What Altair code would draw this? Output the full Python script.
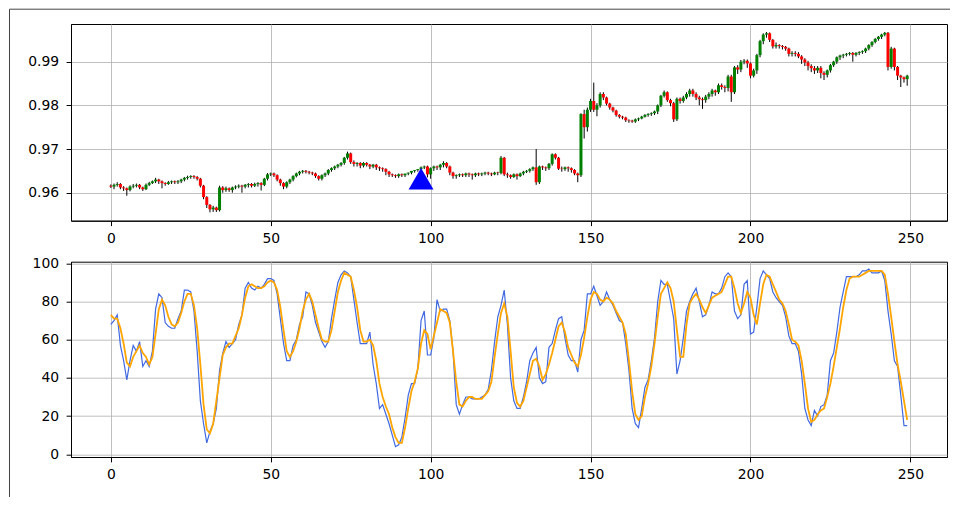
import altair as alt
import pandas as pd

# prices in units of 0.0001
OPEN = [
9616, 9614, 9618, 9620, 9612, 9610, 9606, 9614, 9616, 9618,
9612, 9608, 9618, 9622, 9626, 9630, 9626, 9622, 9620, 9624,
9626, 9624, 9626, 9630, 9634, 9636, 9638, 9636, 9632, 9616,
9590, 9572, 9562, 9566, 9560, 9612, 9606, 9610, 9606, 9612,
9614, 9616, 9614, 9618, 9620, 9616, 9620, 9622, 9618, 9632,
9642, 9644, 9640, 9630, 9622, 9614, 9624, 9630, 9638, 9644,
9648, 9650, 9648, 9646, 9644, 9638, 9632, 9640, 9644, 9652,
9656, 9660, 9664, 9668, 9680, 9690, 9670, 9666, 9668, 9662,
9668, 9664, 9660, 9664, 9658, 9656, 9654, 9648, 9642, 9640,
9638, 9642, 9640, 9644, 9646, 9650, 9652, 9654, 9658, 9660,
9642, 9656, 9660, 9658, 9664, 9668, 9660, 9646, 9638, 9640,
9642, 9640, 9644, 9642, 9640, 9644, 9642, 9644, 9646, 9644,
9642, 9646, 9645, 9680, 9642, 9640, 9636, 9642, 9638, 9644,
9648, 9650, 9654, 9658, 9624, 9660, 9658, 9656, 9666, 9688,
9680, 9655, 9654, 9658, 9656, 9652, 9644, 9640, 9780, 9750,
9790, 9810, 9790, 9800, 9826, 9818, 9804, 9795, 9788, 9778,
9774, 9772, 9766, 9765, 9763, 9768, 9770, 9774, 9778, 9780,
9782, 9786, 9800, 9822, 9830, 9812, 9805, 9768, 9815, 9810,
9818, 9826, 9834, 9826, 9818, 9814, 9812, 9820, 9826, 9834,
9830, 9846, 9842, 9840, 9866, 9830, 9887, 9882, 9900, 9902,
9896, 9868, 9880, 9915, 9947, 9962, 9965, 9950, 9935, 9938,
9936, 9934, 9930, 9918, 9920, 9918, 9912, 9905, 9898, 9890,
9885, 9880, 9886, 9874, 9870, 9880, 9892, 9900, 9910, 9914,
9916, 9918, 9920, 9916, 9920, 9922, 9924, 9930, 9938, 9945,
9952, 9957, 9962, 9966, 9888, 9930, 9888, 9868, 9864, 9860,
]
HIGH = [
9619, 9621, 9624, 9622, 9615, 9612, 9617, 9620, 9621, 9620,
9614, 9621, 9625, 9628, 9634, 9632, 9628, 9624, 9627, 9628,
9628, 9629, 9632, 9636, 9639, 9640, 9640, 9638, 9634, 9618,
9592, 9574, 9570, 9568, 9616, 9615, 9614, 9612, 9614, 9617,
9619, 9618, 9620, 9622, 9622, 9623, 9624, 9624, 9634, 9645,
9646, 9646, 9642, 9632, 9624, 9626, 9632, 9640, 9646, 9650,
9652, 9652, 9650, 9648, 9646, 9640, 9642, 9646, 9654, 9658,
9662, 9666, 9670, 9682, 9694, 9692, 9674, 9670, 9670, 9670,
9670, 9666, 9666, 9666, 9660, 9658, 9656, 9650, 9644, 9642,
9644, 9644, 9642, 9646, 9648, 9652, 9654, 9660, 9662, 9662,
9658, 9662, 9662, 9666, 9672, 9670, 9662, 9648, 9642, 9644,
9644, 9646, 9646, 9644, 9646, 9646, 9646, 9648, 9648, 9646,
9648, 9648, 9684, 9682, 9646, 9642, 9644, 9644, 9646, 9650,
9652, 9656, 9660, 9700, 9662, 9662, 9660, 9668, 9690, 9690,
9682, 9660, 9660, 9660, 9658, 9654, 9646, 9782, 9790, 9795,
9815, 9852, 9805, 9830, 9830, 9820, 9806, 9797, 9790, 9780,
9776, 9774, 9768, 9767, 9770, 9772, 9776, 9780, 9782, 9784,
9788, 9802, 9824, 9834, 9832, 9815, 9808, 9818, 9818, 9822,
9830, 9838, 9838, 9830, 9822, 9818, 9824, 9830, 9838, 9836,
9850, 9850, 9846, 9870, 9870, 9890, 9892, 9904, 9906, 9905,
9898, 9884, 9918, 9950, 9965, 9968, 9967, 9952, 9944, 9940,
9938, 9936, 9932, 9924, 9924, 9922, 9915, 9908, 9902, 9894,
9890, 9890, 9890, 9878, 9882, 9895, 9902, 9912, 9916, 9918,
9920, 9922, 9922, 9922, 9924, 9926, 9932, 9940, 9947, 9954,
9959, 9964, 9968, 9968, 9934, 9932, 9890, 9870, 9866, 9870,
]
LOW = [
9611, 9608, 9614, 9608, 9604, 9593, 9603, 9610, 9612, 9608,
9604, 9606, 9615, 9620, 9622, 9620, 9610, 9616, 9618, 9620,
9620, 9620, 9622, 9626, 9630, 9632, 9632, 9628, 9612, 9585,
9565, 9555, 9556, 9556, 9557, 9600, 9602, 9602, 9600, 9608,
9610, 9600, 9610, 9612, 9612, 9613, 9614, 9605, 9615, 9628,
9638, 9636, 9626, 9616, 9608, 9610, 9620, 9626, 9635, 9640,
9644, 9644, 9642, 9640, 9634, 9628, 9628, 9636, 9640, 9648,
9652, 9656, 9660, 9664, 9676, 9666, 9660, 9660, 9656, 9658,
9660, 9654, 9656, 9652, 9650, 9648, 9640, 9636, 9636, 9634,
9634, 9636, 9636, 9640, 9642, 9646, 9648, 9650, 9654, 9635,
9632, 9650, 9652, 9652, 9658, 9656, 9640, 9632, 9632, 9636,
9636, 9636, 9636, 9630, 9636, 9638, 9638, 9640, 9640, 9638,
9640, 9640, 9642, 9638, 9634, 9632, 9634, 9630, 9636, 9640,
9645, 9646, 9650, 9618, 9620, 9652, 9650, 9652, 9662, 9676,
9652, 9648, 9650, 9648, 9646, 9640, 9624, 9636, 9724, 9740,
9785, 9785, 9775, 9795, 9812, 9800, 9790, 9784, 9774, 9770,
9768, 9762, 9760, 9760, 9760, 9764, 9768, 9772, 9774, 9776,
9778, 9780, 9796, 9818, 9808, 9798, 9762, 9764, 9804, 9806,
9814, 9820, 9820, 9812, 9800, 9792, 9806, 9814, 9820, 9822,
9826, 9836, 9830, 9832, 9808, 9826, 9872, 9876, 9894, 9886,
9862, 9864, 9872, 9910, 9940, 9955, 9945, 9930, 9930, 9930,
9928, 9925, 9912, 9912, 9912, 9908, 9895, 9890, 9880, 9876,
9872, 9874, 9862, 9858, 9864, 9875, 9888, 9895, 9904, 9908,
9912, 9914, 9900, 9912, 9915, 9918, 9920, 9926, 9934, 9942,
9948, 9952, 9958, 9880, 9884, 9880, 9858, 9842, 9852, 9845,
]
CLOSE = [
9614, 9618, 9620, 9612, 9610, 9606, 9614, 9616, 9618, 9612,
9608, 9618, 9622, 9626, 9630, 9626, 9622, 9620, 9624, 9626,
9624, 9626, 9630, 9634, 9636, 9638, 9636, 9632, 9616, 9590,
9572, 9562, 9566, 9560, 9612, 9606, 9610, 9606, 9612, 9614,
9616, 9614, 9618, 9620, 9616, 9620, 9622, 9618, 9632, 9642,
9644, 9640, 9630, 9622, 9614, 9624, 9630, 9638, 9644, 9648,
9650, 9648, 9646, 9644, 9638, 9632, 9640, 9644, 9652, 9656,
9660, 9664, 9668, 9680, 9690, 9670, 9666, 9668, 9662, 9668,
9664, 9660, 9664, 9658, 9656, 9654, 9648, 9642, 9640, 9638,
9642, 9640, 9644, 9646, 9650, 9652, 9654, 9658, 9660, 9642,
9656, 9660, 9658, 9664, 9668, 9660, 9646, 9638, 9640, 9642,
9640, 9644, 9642, 9640, 9644, 9642, 9644, 9646, 9644, 9642,
9646, 9645, 9680, 9642, 9640, 9636, 9642, 9638, 9644, 9648,
9650, 9654, 9658, 9624, 9660, 9658, 9656, 9666, 9688, 9680,
9655, 9654, 9658, 9656, 9652, 9644, 9640, 9780, 9750, 9790,
9810, 9790, 9800, 9826, 9818, 9804, 9795, 9788, 9778, 9774,
9772, 9766, 9765, 9763, 9768, 9770, 9774, 9778, 9780, 9782,
9786, 9800, 9822, 9830, 9812, 9805, 9768, 9815, 9810, 9818,
9826, 9834, 9826, 9818, 9814, 9812, 9820, 9826, 9834, 9830,
9846, 9842, 9840, 9866, 9830, 9887, 9882, 9900, 9902, 9896,
9868, 9880, 9915, 9947, 9962, 9965, 9950, 9935, 9938, 9936,
9934, 9930, 9918, 9920, 9918, 9912, 9905, 9898, 9890, 9885,
9880, 9886, 9874, 9870, 9880, 9892, 9900, 9910, 9914, 9916,
9918, 9920, 9916, 9920, 9922, 9924, 9930, 9938, 9945, 9952,
9957, 9962, 9966, 9888, 9930, 9888, 9868, 9864, 9860, 9868,
]
K_LINE = [
68, 70, 73, 57, 49, 39, 49, 57, 54, 59,
46, 49, 46, 54, 76, 84, 82, 69, 67, 66,
66, 71, 75, 86, 86, 85, 75, 54, 28, 16,
6, 12, 16, 24, 44, 53, 59, 56, 58, 60,
68, 73, 87, 90, 87, 86, 88, 87, 89, 92,
92, 91, 84, 71, 58, 49, 49, 57, 60, 68,
72, 85, 84, 78, 69, 64, 59, 56, 59, 71,
81, 90, 94, 96, 95, 93, 81, 69, 58, 58,
58, 64, 47, 37, 24, 26, 21, 16, 10, 4,
5, 9, 19, 31, 37, 37, 45, 70, 75, 52,
52, 61, 81, 75, 76, 76, 70, 54, 26, 21,
26, 30, 30, 29, 29, 29, 30, 31, 34, 44,
59, 72, 78, 86, 68, 40, 28, 24, 24, 30,
38, 49, 53, 56, 40, 37, 38, 56, 58, 65,
71, 72, 61, 52, 49, 49, 43, 60, 65, 84,
84, 88, 83, 78, 80, 85, 81, 78, 74, 70,
69, 58, 44, 24, 16, 14, 24, 35, 39, 49,
61, 80, 91, 89, 89, 80, 71, 42, 49, 61,
75, 80, 84, 87, 80, 72, 73, 78, 85, 84,
84, 87, 93, 95, 93, 75, 71, 73, 89, 91,
63, 64, 77, 92, 96, 94, 92, 85, 82, 80,
78, 72, 62, 58, 58, 54, 42, 24, 18, 15,
23, 20, 25, 26, 31, 49, 53, 64, 77, 85,
93, 93, 93, 93, 94, 96, 96, 97, 95, 95,
95, 96, 91, 75, 63, 49, 46, 31, 15, 15,
]
D_LINE = [
73, 71, 71, 66, 58, 48, 46, 51, 54, 57,
53, 51, 47, 51, 63, 76, 81, 78, 72, 68,
67, 69, 74, 80, 84, 84, 78, 66, 47, 26,
13, 11, 16, 28, 40, 52, 56, 58, 58, 62,
66, 73, 82, 88, 89, 88, 87, 87, 88, 90,
91, 90, 86, 77, 65, 54, 51, 54, 59, 66,
75, 81, 84, 80, 73, 66, 60, 59, 59, 65,
75, 85, 91, 95, 94, 93, 86, 77, 65, 59,
59, 60, 57, 49, 37, 30, 25, 21, 14, 9,
6, 6, 14, 24, 33, 38, 45, 58, 65, 63,
55, 62, 69, 76, 75, 74, 69, 54, 38, 26,
25, 28, 30, 30, 29, 29, 29, 31, 33, 38,
51, 63, 74, 79, 72, 54, 35, 27, 25, 28,
35, 42, 49, 50, 46, 39, 42, 47, 53, 60,
67, 69, 64, 56, 52, 48, 46, 52, 61, 72,
81, 85, 84, 81, 80, 82, 81, 79, 75, 72,
69, 63, 49, 33, 21, 18, 20, 30, 37, 46,
58, 72, 84, 87, 90, 87, 80, 65, 51, 51,
68, 79, 82, 84, 81, 77, 74, 78, 82, 83,
84, 85, 89, 93, 93, 87, 79, 74, 79, 85,
82, 73, 68, 79, 89, 94, 93, 89, 85, 81,
79, 75, 68, 60, 59, 57, 49, 37, 24, 17,
18, 21, 23, 24, 30, 37, 46, 56, 66, 77,
86, 92, 93, 93, 93, 94, 95, 96, 96, 96,
96, 96, 94, 84, 72, 59, 47, 38, 28, 18,
]
SIGNAL_X = [97]
SIGNAL_Y = [0.9632]
X_TICKS = [0, 50, 100, 150, 200, 250]
PRICE_TICKS = [0.96, 0.97, 0.98, 0.99]
OSC_TICKS = [0, 20, 40, 60, 80, 100]

n = len(CLOSE)
candles = pd.DataFrame({
    "i": list(range(n)),
    "open": [v / 10000 for v in OPEN],
    "high": [v / 10000 for v in HIGH],
    "low": [v / 10000 for v in LOW],
    "close": [v / 10000 for v in CLOSE],
})
candles["dir"] = ["up" if c >= o else "down" for o, c in zip(OPEN, CLOSE)]

osc = pd.DataFrame({"i": list(range(len(K_LINE))), "k": K_LINE, "d": D_LINE})
signal = pd.DataFrame({"i": SIGNAL_X, "y": SIGNAL_Y})
frame_df = pd.DataFrame({"f": [0]})

W = 876
xscale = alt.Scale(domain=[-12.45, 261.45], nice=False, zero=False, padding=0)
xaxis = alt.Axis(values=X_TICKS, format="d", title=None)

price_scale = alt.Scale(domain=[0.95359, 0.99863], nice=False, zero=False, padding=0)
price_axis = alt.Axis(values=PRICE_TICKS, format=".2f", title=None)

base = alt.Chart(candles)
wicks = base.mark_rule(color="black", strokeWidth=1).encode(
    x=alt.X("i:Q", scale=xscale, axis=xaxis),
    y=alt.Y("low:Q", scale=price_scale, axis=price_axis),
    y2="high:Q",
)
bodies = base.mark_bar(size=3).encode(
    x=alt.X("i:Q", scale=xscale, axis=xaxis),
    y=alt.Y("open:Q", scale=price_scale, axis=price_axis),
    y2="close:Q",
    color=alt.Color("dir:N", scale=alt.Scale(domain=["up", "down"], range=["#008000", "#ff0000"]), legend=None),
)
marker = alt.Chart(signal).mark_point(shape="triangle-up", filled=True, color="#0000ff", size=620, opacity=1).encode(
    x=alt.X("i:Q", scale=xscale, axis=xaxis),
    y=alt.Y("y:Q", scale=price_scale, axis=price_axis),
)
# outer figure border (screenshot frame) — decoration only
border_top = alt.Chart(frame_df).mark_rule(color="#444444", strokeWidth=1, clip=False).encode(
    x=alt.value(-61.5), x2=alt.value(879), y=alt.value(-14.8)
)
border_left = alt.Chart(frame_df).mark_rule(color="#444444", strokeWidth=1, clip=False).encode(
    x=alt.value(-61.5), y=alt.value(-14.8), y2=alt.value(473)
)
top = alt.layer(wicks, bodies, marker, border_top, border_left).properties(width=W, height=196.7)

osc_scale = alt.Scale(domain=[-1.41, 100.84], nice=False, zero=False, padding=0)
osc_axis = alt.Axis(values=OSC_TICKS, format="d", title=None)
obase = alt.Chart(osc)
kline = obase.mark_line(color="#4169e1", strokeWidth=1.2).encode(
    x=alt.X("i:Q", scale=xscale, axis=xaxis),
    y=alt.Y("k:Q", scale=osc_scale, axis=osc_axis),
)
dline = obase.mark_line(color="#ffa500", strokeWidth=1.8).encode(
    x=alt.X("i:Q", scale=xscale, axis=xaxis),
    y=alt.Y("d:Q", scale=osc_scale, axis=osc_axis),
)
bottom = alt.layer(kline, dline).properties(width=W, height=195.3)

chart = alt.vconcat(top, bottom, spacing=40.7, bounds="flush").properties(
    padding={"left": 0, "top": 0, "right": 0, "bottom": 0}
).configure_view(
    stroke="black", strokeWidth=1
).configure_axis(
    labelFont="DejaVu Sans", labelFontSize=13.9, labelColor="black",
    tickColor="black", tickSize=4.9, tickWidth=1,
    domainColor="black", domainWidth=1,
    grid=True, gridColor="#b0b0b0", gridWidth=0.8,
).configure_axisX(
    labelPadding=5.5
).configure_axisY(
    labelPadding=7.5
)

chart.save("out.html", embed_options={"renderer": "svg", "actions": False})
